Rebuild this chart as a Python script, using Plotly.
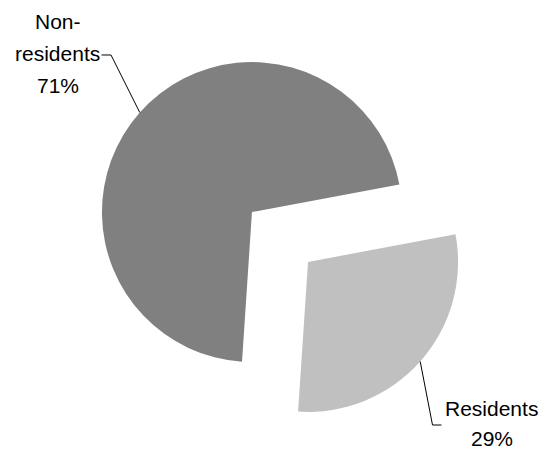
import math
import plotly.graph_objects as go

# Data
labels = ["Residents", "Non-residents"]
values = [29, 71]
colors = ["#c0c0c0", "#808080"]
label_lines = [["Residents", "29%"], ["Non-", "residents", "71%"]]

W, H = 549, 452
FONT = "Liberation Sans, Arial, sans-serif"

# Pie geometry (pixels)
cx, cy = 280.0, 237.0
radius = 150.0
pull = 0.25
start_angle = 79.4  # clockwise from 12 o'clock
box_half = radius * (1 + pull)

dom_x = [(cx - box_half) / W, (cx + box_half) / W]
dom_y = [1 - (cy + box_half) / H, 1 - (cy - box_half) / H]

fig = go.Figure(go.Pie(
    labels=labels,
    values=values,
    sort=False,
    direction="clockwise",
    rotation=start_angle,
    pull=[pull, pull],
    marker=dict(colors=colors, line=dict(width=0)),
    textinfo="none",
    hoverinfo="label+percent",
    showlegend=False,
    domain=dict(x=dom_x, y=dom_y),
))


def px(x, y):
    return x / W, 1 - y / H


# Point on each slice's outer edge at its mid angle
total = sum(values)
edge_pts = []
a0 = start_angle
for v in values:
    span = 360.0 * v / total
    mid = math.radians(a0 + span / 2)
    ox = cx + radius * pull * math.sin(mid)
    oy = cy - radius * pull * math.cos(mid)
    edge_pts.append((ox + radius * math.sin(mid), oy - radius * math.cos(mid)))
    a0 += span

# Label text blocks: (centre x, first line y, line step)
label_pos = [(491.5, 408, 30), (57.5, 21, 32.3)]
# Leader line elbows and ends
leader_paths = [
    [(432.5, 425), (441.5, 425)],
    [(111, 55), (101.5, 55)],
]

annotations = []
for lines, (lx, ly, step) in zip(label_lines, label_pos):
    for i, t in enumerate(lines):
        x, y = px(lx, ly + i * step)
        annotations.append(dict(
            x=x, y=y, xref="paper", yref="paper", text=t, showarrow=False,
            xanchor="center", yanchor="middle",
            font=dict(family=FONT, size=21, color="#000000"),
        ))

shapes = []
for (ex, ey), path in zip(edge_pts, leader_paths):
    pts = [(ex, ey)] + path
    d = "M " + " L ".join(f"{px(x, y)[0]:.5f},{px(x, y)[1]:.5f}" for x, y in pts)
    shapes.append(dict(type="path", xref="paper", yref="paper", path=d,
                       line=dict(color="#000000", width=1)))

fig.update_layout(
    width=W, height=H,
    margin=dict(l=0, r=0, t=0, b=0),
    paper_bgcolor="#ffffff",
    plot_bgcolor="#ffffff",
    annotations=annotations,
    shapes=shapes,
)

fig.write_html("out.html")
